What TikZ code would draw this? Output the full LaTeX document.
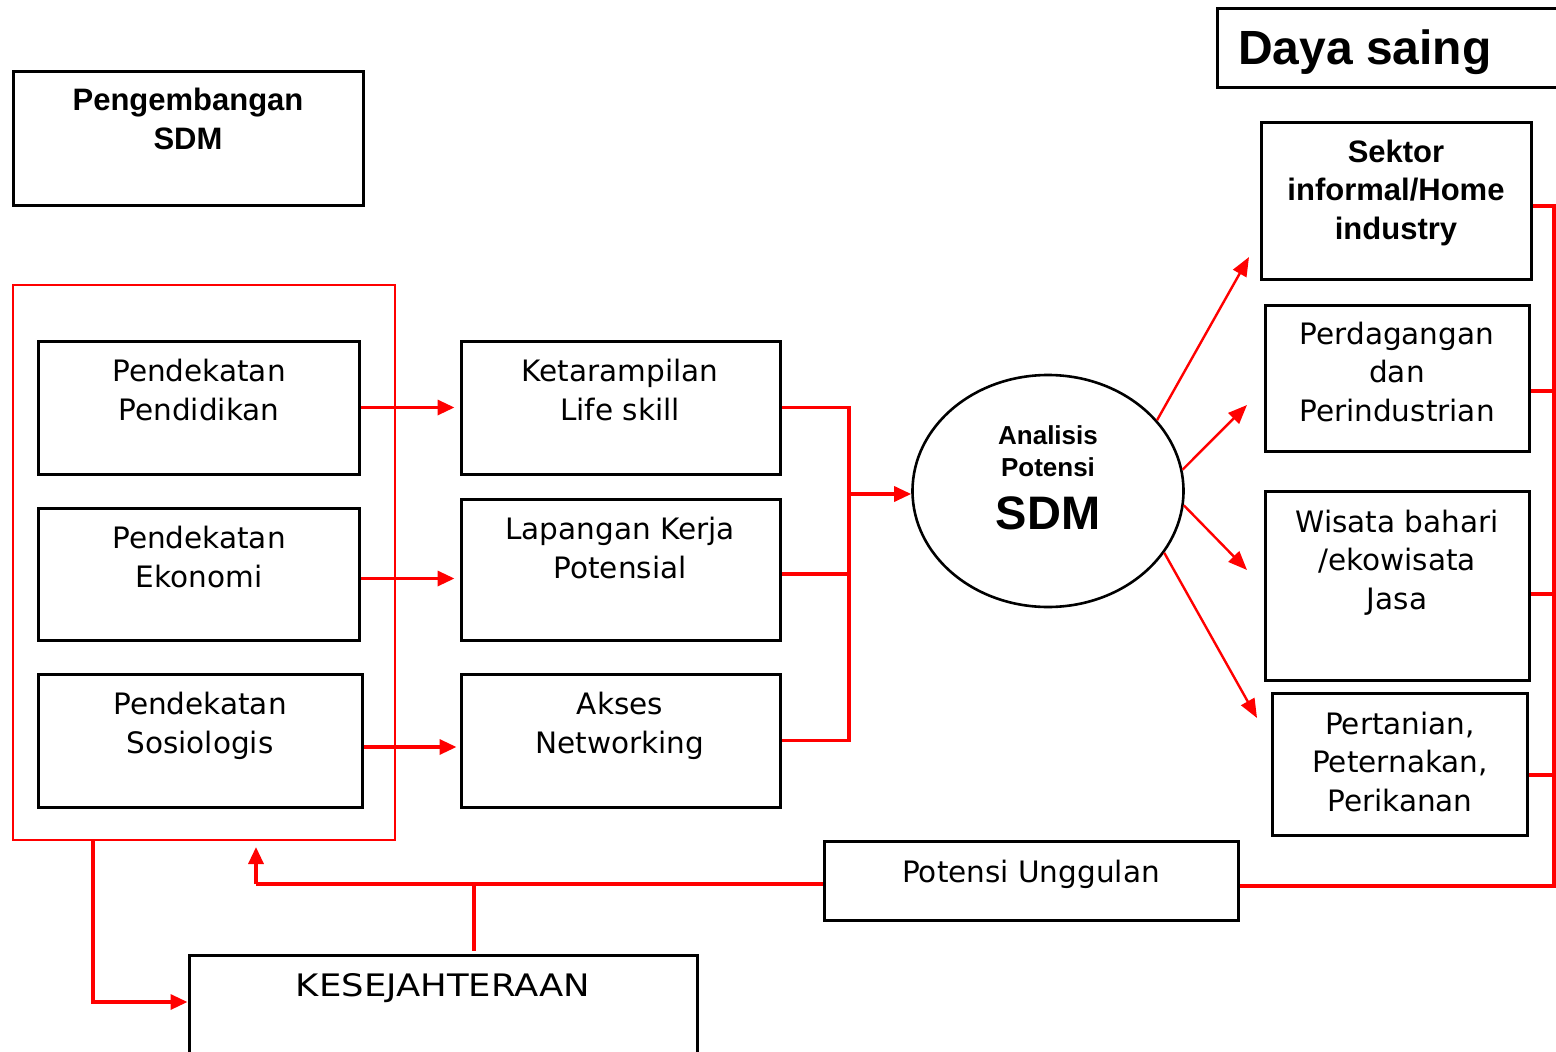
\documentclass[tikz,border=0pt]{standalone}
\usepackage{fontspec}
\setmainfont{DejaVu Sans}
\newfontfamily\libf{Liberation Sans}
\usetikzlibrary{arrows.meta,calc,shapes.geometric,fit}
\definecolor{rd}{RGB}{255,0,0}
\begin{document}
\begin{tikzpicture}[x=1pt,y=-1pt,
  bx/.style={draw=black,line width=3pt,inner sep=0pt,rectangle},
  tx/.style={align=center,anchor=base,inner sep=0pt,font=\fontsize{29.5}{38.3}\selectfont},
  btx/.style={align=center,anchor=base,inner sep=0pt,font=\libf\bfseries\fontsize{31}{38.5}\selectfont},
  rl/.style={draw=rd,line width=3.3pt},
  arr/.style={-{Triangle[length=17pt,width=15pt]}},
  darr/.style={draw=rd,line width=2.4pt,-{Triangle[length=19pt,width=15pt]}}]
\useasboundingbox (0,0) rectangle (1556,1052);
\clip (0,0) rectangle (1556,1052);
% boxes
\node[bx,fit={(13,71)(363,205)}] (psdm) {};
\node[bx,fit={(1217,8)(1590,87)}] (daya) {};
\node[draw=rd,line width=2.4pt,inner sep=0pt,fit={(13,285)(395,840)}] (rbox) {};
\node[bx,fit={(38,341)(359,474)}] (ppend) {};
\node[bx,fit={(38,508)(359,640)}] (peko) {};
\node[bx,fit={(38,674)(362,807)}] (psos) {};
\node[bx,fit={(461,341)(780,474)}] (ket) {};
\node[bx,fit={(461,499)(780,640)}] (lap) {};
\node[bx,fit={(461,674)(780,807)}] (aks) {};
\node[draw=black,line width=2.6pt,ellipse,minimum width=271pt,minimum height=232pt,inner sep=0pt] (an) at (1048,491) {};
\node[bx,fit={(1261,122)(1531,279)}] (sek) {};
\node[bx,fit={(1265,305)(1529,451)}] (perd) {};
\node[bx,fit={(1265,491)(1529,680)}] (wis) {};
\node[bx,fit={(1272,693)(1527,835)}] (pert) {};
\node[bx,fit={(824,841)(1238,920)}] (pot) {};
\node[bx,fit={(189,955)(697,1080)}] (kes) {};
% texts (anchor = baseline of last line)
\node[btx] (tpsdm) at (188,149) {Pengembangan\\SDM};
\node[anchor=base west,inner sep=0pt,font=\libf\bfseries\fontsize{48}{50}\selectfont] (tdaya) at (1238,64) {Daya saing};
\node[tx] (tpp) at (199,420) {Pendekatan\\Pendidikan};
\node[tx] (tpe) at (199,587) {Pendekatan\\Ekonomi};
\node[tx] (tps) at (200,753) {Pendekatan\\Sosiologis};
\node[tx] (tket) at (620,420) {Ketarampilan\\Life skill};
\node[tx] (tlap) at (620,578) {Lapangan Kerja\\Potensial};
\node[tx] (taks) at (620,753) {Akses\\Networking};
\node[btx,font=\libf\bfseries\fontsize{26}{32}\selectfont] (tan) at (1048,476) {Analisis\\Potensi};
\node[anchor=base,inner sep=0pt,font=\libf\bfseries\fontsize{47}{50}\selectfont] (tsdm) at (1048,529) {SDM};
\node[btx] (tsek) at (1396,239) {Sektor\\informal/Home\\industry};
\node[tx] (tperd) at (1397,421) {Perdagangan\\dan\\Perindustrian};
\node[tx] (twis) at (1397,609) {Wisata bahari\\/ekowisata\\Jasa};
\node[tx] (tpert) at (1400,811) {Pertanian,\\Peternakan,\\Perikanan};
\node[tx] (tpot) at (1031,882) {Potensi Unggulan};
\node[tx] (tkes) at (443,996) {\scalebox{1.2}[1.05]{KESEJAHTERAAN}};
% coordinates
\coordinate (bj) at (849,494);
\coordinate (rr) at (1554,886);
\coordinate (fb) at (256,884);
\coordinate (fbt) at (256,847);
\coordinate (kj) at (474,884);
\coordinate (rb) at (93,840);
\coordinate (rbd) at (93,1002);
\coordinate (e1) at (1249,257);
\coordinate (e2) at (1247,405);
\coordinate (e3) at (1247,570);
\coordinate (e4) at (1257,718);
% left arrows
\draw[rl,arr] (ppend.east) -- ($(ket.west)+(-5,0)$);
\draw[rl,arr] ([yshift=-4.5pt]peko.east) -- ($([yshift=-4.5pt]peko.east -| lap.west)+(-5,0)$);
\draw[rl,arr] ([yshift=-6.5pt]psos.east) -- ($([yshift=-6.5pt]psos.east -| aks.west)+(-3,0)$);
% bracket
\draw[rl] (ket.east) -- (ket.east -| bj) -- (aks.east -| bj) -- (aks.east);
\draw[rl] ([yshift=-4.5pt]lap.east) -- ([yshift=-4.5pt]lap.east -| bj);
\draw[rl,arr] (bj) -- (bj -| an.west);
% ellipse arrows
\draw[darr] (an.33) -- (e1);
\draw[darr] (an.9) -- (e2);
\draw[darr] (an.-6) -- (e3);
\draw[darr] (an.-28) -- (e4);
% right bracket
\draw[rl] ([yshift=-5.5pt]sek.east) -- ([yshift=-5.5pt]sek.east -| rr) -- (rr) -- (rr -| pot.east);
\draw[rl] ([yshift=-13pt]perd.east) -- ([yshift=-13pt]perd.east -| rr);
\draw[rl] ([yshift=-8.5pt]wis.east) -- ([yshift=-8.5pt]wis.east -| rr);
\draw[rl] ([yshift=-11pt]pert.east) -- ([yshift=-11pt]pert.east -| rr);
% bottom
\draw[rl] (fb -| pot.west) -- (fb);
\draw[rl,arr] (fb) -- (fbt);
\draw[rl] (kj) -- ($(kj |- kes.north)+(0,-3)$);
\draw[rl,arr] (rb) -- (rbd) -- (rbd -| kes.west);
\end{tikzpicture}
\end{document}
